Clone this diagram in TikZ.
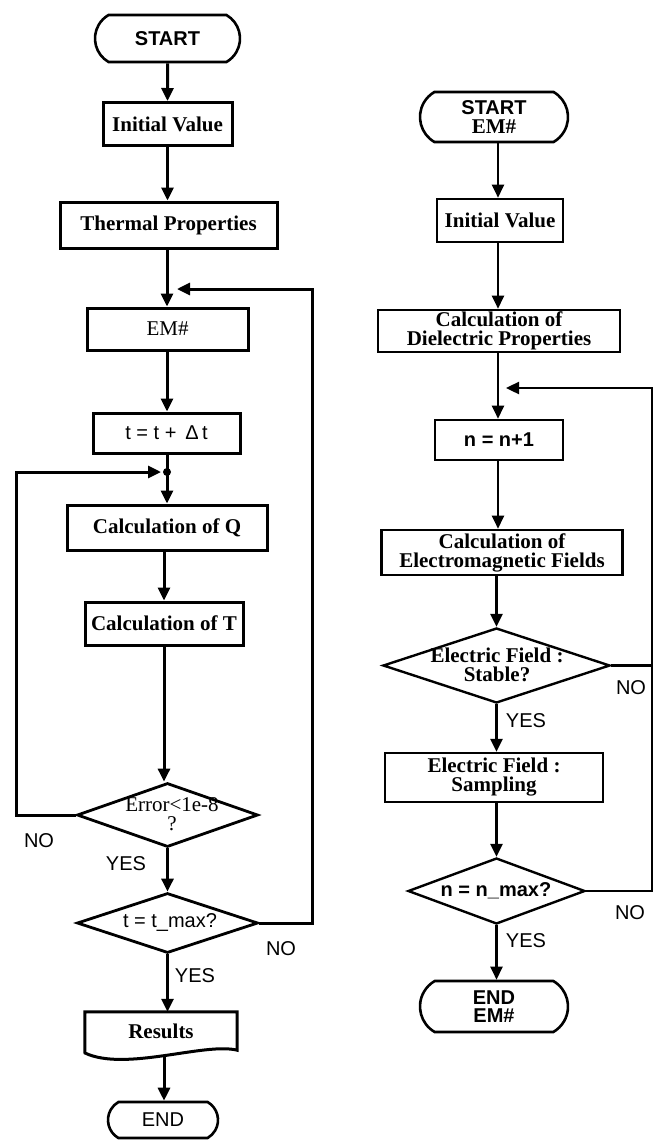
\documentclass[tikz,border=0pt]{standalone}
\usepackage{fontspec}
\setmainfont{Liberation Serif}
\newfontfamily\arialf{Liberation Sans}
\usetikzlibrary{arrows.meta,shapes.geometric,shapes.misc}
\newcommand\myserifb{\rmfamily\fontsize{21}{19}\selectfont\bfseries}
\newcommand\myserif{\rmfamily\fontsize{21}{19}\selectfont}
\newcommand\mysans{\arialf\fontsize{20}{20}\selectfont}
\newcommand\mysansb{\arialf\fontsize{20}{20}\selectfont\bfseries}
\tikzset{
  plainL/.style={line width=3pt},
  connL/.style={line width=3pt, -{Triangle[length=13pt,width=12pt]}},
  plainR/.style={line width=2.4pt},
  connR/.style={line width=2.4pt, -{Triangle[length=13pt,width=12pt]}},
  box/.style={draw, line width=3pt, rectangle, inner sep=0pt, align=center, font=\myserifb},
  boxR/.style={box, line width=2.6pt},
  term/.style={draw, line width=2.6pt, rounded rectangle, rounded rectangle arc length=120, inner sep=0pt, align=center, font=\mysans},
  dia/.style={draw, diamond, line width=2.8pt, inner sep=0pt},
  diatext/.style={inner sep=0pt, align=center},
  lbl/.style={font=\mysans, inner sep=0pt},
}
\begin{document}
\begin{tikzpicture}[x=1pt,y=-1pt]
\useasboundingbox[fill=white] (0,0) rectangle (654,1140);

% ---------------- left flowchart ----------------
\node[term, minimum width=145, minimum height=47, font=\mysansb] (start) at (167.5,38.5) {START};
\node[box, minimum width=129, minimum height=43] (init) at (167.5,124) {Initial Value};
\node[box, minimum width=217, minimum height=46] (therm) at (168.5,225) {Thermal Properties};
\node[box, minimum width=161, minimum height=42, font=\myserif] (em) at (167.5,329) {EM\#};
\node[box, minimum width=147, minimum height=40, font=\mysans] (tinc) at (166.5,433) {t = t + \,Δ\,t};
\node[box, minimum width=200, minimum height=45] (calcq) at (167,527.5) {Calculation of Q};
\node[box, minimum width=158, minimum height=43] (calct) at (164,623.5) {Calculation of T};
\node[dia, minimum width=181, minimum height=64] (err) at (167.5,815) {};
\node[diatext, font=\myserif] (errt) at (172,814) {Error<1e-8\\?};
\node[dia, minimum width=181, minimum height=60] (tmax) at (167.5,923) {};
\node[diatext, font=\mysans] (tmaxt) at (170,922) {t = t\_max?};
\node[inner sep=0pt, minimum width=152, minimum height=38, font=\myserifb] (results) at (161,1031) {Results};
\node[term, minimum width=110, minimum height=36] (end) at (163,1120) {END};

\draw[line width=3pt, line join=miter]
  (results.south west) -- (results.north west) -- (results.north east) -- (results.south east)
  .. controls (205,1042) and (125,1072) .. (85,1053) -- (results.south west);

\coordinate (j1) at (167,289);
\coordinate (fb1) at (177,289);
\coordinate (j2) at (167,472);
\coordinate (lp) at (161,472);
\coordinate (resb) at (164,1056);
\coordinate (rx) at (312,0);
\coordinate (lx) at (16,0);

\draw[connL] (start) -- (init);
\draw[connL] (init) -- (therm.north -| init);
\draw[plainL] (therm.south -| j1) -- (j1);
\draw[connL] (j1) -- (em.north -| j1);
\draw[connL] (em.south -| j1) -- (tinc.north -| j1);
\draw[plainL] (tinc.south -| j2) -- (j2);
\draw[connL] (j2) -- (calcq.north -| j2);
\draw[connL] (calcq.south -| calct) -- (calct.north);
\draw[connL] (calct.south) -- (err.north -| calct);
\draw[connL] (err.south) -- (tmax.north);
\draw[connL] (tmax.south) -- (tmax.south |- results.north);
\draw[connL] (resb) -- (end.north -| resb);
% loops
\draw[connL, line join=miter] (tmax.east) -- (tmax.east -| rx) -- (j1 -| rx) -- (fb1);
\draw[connL, line join=miter] (err.west) -- (err.west -| lx) -- (j2 -| lx) -- (lp);
\fill (j2) circle (4pt);

\node[lbl] (no1) at (39,841) {NO};
\node[lbl] (yes1) at (126,864) {YES};
\node[lbl] (no2) at (281,949) {NO};
\node[lbl] (yes2) at (195,976) {YES};

% ---------------- right flowchart ----------------
\node[term, minimum width=148, minimum height=50, align=center] (start2) at (494,117) {\mysansb START\\[-1pt]\myserifb EM\#};
\node[boxR, minimum width=126, minimum height=43] (init2) at (500,220.5) {Initial Value};
\node[boxR, minimum width=242, minimum height=42] (diel) at (499,331) {Calculation of\\Dielectric Properties};
\node[boxR, minimum width=128, minimum height=40, font=\mysansb] (ninc) at (499,440) {n = n+1};
\node[boxR, minimum width=241, minimum height=45] (emf) at (502,552.5) {Calculation of\\Electromagnetic Fields};
\node[dia, line width=2.4pt, minimum width=227, minimum height=75] (stable) at (496.5,665.5) {};
\node[diatext, font=\myserifb] (stablet) at (497,665) {Electric Field :\\Stable?};
\node[boxR, line width=2.4pt, minimum width=218, minimum height=49] (samp) at (494,777.5) {Electric Field :\\Sampling};
\node[dia, line width=2.4pt, minimum width=177, minimum height=66] (nmax) at (496.5,891) {};
\node[diatext, font=\mysansb] (nmaxt) at (496,891) {n = n\_max?};
\node[term, minimum width=148, minimum height=51, font=\mysansb] (end2) at (494,1006.5) {END\\[-2pt]EM\#};

\coordinate (rm) at (498,0);
\coordinate (j3) at (498,388);
\coordinate (fb2) at (506,388);
\coordinate (rr) at (652,0);

\draw[connR] (start2.south -| rm) -- (init2.north -| rm);
\draw[connR] (init2.south -| rm) -- (diel.north -| rm);
\draw[connR] (diel.south -| rm) -- (ninc.north -| rm);
\draw[connR] (ninc.south -| rm) -- (emf.north -| rm);
\draw[connR] (emf.south -| stable) -- (stable.north);
\draw[connR] (stable.south) -- (samp.north -| stable);
\draw[connR] (samp.south -| nmax) -- (nmax.north);
\draw[connR] (nmax.south) -- (end2.north -| nmax);
\draw[connR, line join=miter] (nmax.east) -- (nmax.east -| rr) -- (j3 -| rr) -- (fb2);
\draw[plainR] (stable.east) -- (stable.east -| rr);

\node[lbl] (no3) at (631,688) {NO};
\node[lbl] (yes3) at (526,721) {YES};
\node[lbl] (no4) at (630,913) {NO};
\node[lbl] (yes4) at (526,941) {YES};
\end{tikzpicture}
\end{document}
